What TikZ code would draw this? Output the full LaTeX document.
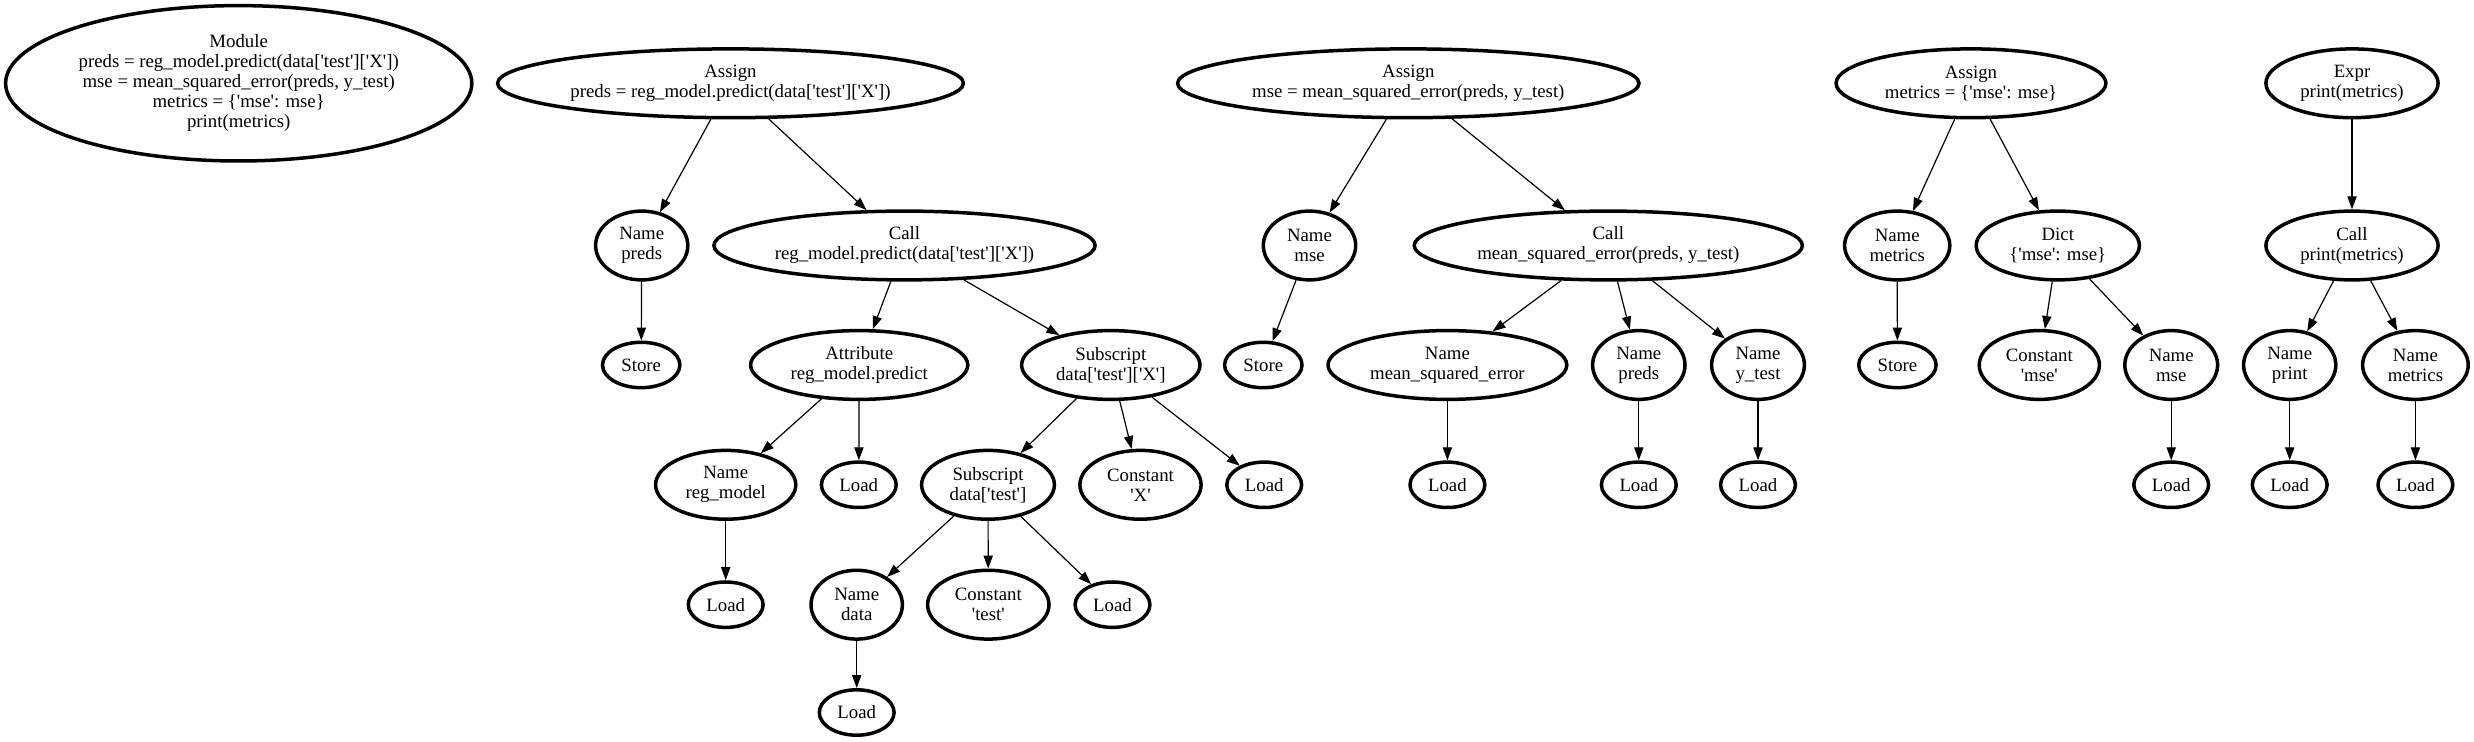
\documentclass[tikz,border=0pt]{standalone}
\usepackage{fontspec}
\newfontfamily\gv{Liberation Serif}
\usetikzlibrary{shapes.geometric,arrows.meta}
\tikzset{
  ast/.style={draw, ellipse, line width=1.75pt, inner sep=0pt, align=center,
    font=\gv\fontsize{9.4pt}{10pt}\selectfont},
  sz/.style 2 args={minimum width=#1pt, minimum height=#2pt},
  two/.style={sz={#1}{34.4}},
  one/.style={sz={37.4}{22.7}},
  conn/.style={-{Triangle[length=6.5pt,width=4.6pt]}, line width=0.6pt}
}
\begin{document}
\begin{tikzpicture}[x=0.5pt,y=-0.5pt]
\fill[white] (0,0) rectangle (2474,742);
\useasboundingbox (0,0) rectangle (2474,742);
% row 0
\node[ast, sz={233.1}{77.7}] (module) at (238.7,83.3) {Module\\preds = reg\_model.predict(data['test']['X'])\\mse = mean\_squared\_error(preds, y\_test)\\metrics = \{'mse': mse\}\\print(metrics)};
\node[ast, two=232.9] (asg1) at (730.5,83.3) {Assign\\preds = reg\_model.predict(data['test']['X'])};
\node[ast, two=230.7] (asg2) at (1408.3,83.3) {Assign\\mse = mean\_squared\_error(preds, y\_test)};
\node[ast, two=134.9] (asg3) at (1971,83.3) {Assign\\metrics = \{'mse': mse\}};
\node[ast, two=86.1] (expr) at (2352,83.3) {Expr\\print(metrics)};
% row 1
\node[ast, two=46.1] (npreds) at (641.7,245.5) {Name\\preds};
\node[ast, two=190.6] (call1) at (904.5,245.5) {Call\\reg\_model.predict(data['test']['X'])};
\node[ast, two=46.2] (nmse) at (1309.5,245.5) {Name\\mse};
\node[ast, two=194.1] (call2) at (1608.3,245.5) {Call\\mean\_squared\_error(preds, y\_test)};
\node[ast, two=52.6] (nmetrics) at (1897.2,245.5) {Name\\metrics};
\node[ast, two=81.6] (dict) at (2057.8,245.5) {Dict\\\{'mse': mse\}};
\node[ast, two=86.1] (call3) at (2352,245.5) {Call\\print(metrics)};
% row 2
\node[ast, sz={38.7}{22.7}] (store1) at (641.2,365) {Store};
\node[ast, two=108.6] (attr) at (859.2,365) {Attribute\\reg\_model.predict};
\node[ast, two=89.2] (sub1) at (1110.8,365) {Subscript\\data['test']['X']};
\node[ast, sz={38.7}{22.7}] (store2) at (1263.3,365) {Store};
\node[ast, two=119.4] (nmse_err) at (1447.4,365) {Name\\mean\_squared\_error};
\node[ast, two=46.2] (npreds2) at (1638.8,365) {Name\\preds};
\node[ast, two=46.4] (nytest) at (1758,365) {Name\\y\_test};
\node[ast, sz={38.7}{22.7}] (store3) at (1897.4,365) {Store};
\node[ast, two=60.1] (cmse) at (2039.3,365) {Constant\\'mse'};
\node[ast, two=46.4] (nmse2) at (2171.2,365) {Name\\mse};
\node[ast, two=46.1] (nprint) at (2289.7,365) {Name\\print};
\node[ast, two=52.8] (nmetrics2) at (2415.4,365) {Name\\metrics};
% row 3
\node[ast, two=70.1] (nregmodel) at (725.7,484.8) {Name\\reg\_model};
\node[ast, one] (loadattr) at (858.8,484.8) {Load};
\node[ast, two=66.4] (sub2) at (988,484.8) {Subscript\\data['test']};
\node[ast, two=60.6] (cX) at (1140.5,484.8) {Constant\\'X'};
\node[ast, one] (loadsub1) at (1264.2,484.8) {Load};
\node[ast, one] (loadmseerr) at (1447.4,484.8) {Load};
\node[ast, one] (loadpreds2) at (1638.8,484.8) {Load};
\node[ast, one] (loadytest) at (1758,484.8) {Load};
\node[ast, one] (loadmse2) at (2171.2,484.8) {Load};
\node[ast, one] (loadprint) at (2289.7,484.8) {Load};
\node[ast, one] (loadmetrics) at (2415.4,484.8) {Load};
% row 4
\node[ast, one] (loadregmodel) at (725.7,604.7) {Load};
\node[ast, two=45.7] (ndata) at (856.7,604.7) {Name\\data};
\node[ast, two=60.7] (ctest) at (988.3,604.7) {Constant\\'test'};
\node[ast, one] (loadsub2) at (1112.5,604.7) {Load};
% row 5
\node[ast, one] (loaddata) at (856.7,712.5) {Load};
% edges
\draw[conn] (asg1) -- (npreds);
\draw[conn] (asg1) -- (call1);
\draw[conn] (npreds) -- (store1);
\draw[conn] (call1) -- (attr);
\draw[conn] (call1) -- (sub1);
\draw[conn] (attr) -- (nregmodel);
\draw[conn] (attr) -- (loadattr);
\draw[conn] (nregmodel) -- (loadregmodel);
\draw[conn] (sub1) -- (sub2);
\draw[conn] (sub1) -- (cX);
\draw[conn] (sub1) -- (loadsub1);
\draw[conn] (sub2) -- (ndata);
\draw[conn] (sub2) -- (ctest);
\draw[conn] (sub2) -- (loadsub2);
\draw[conn] (ndata) -- (loaddata);
\draw[conn] (asg2) -- (nmse);
\draw[conn] (asg2) -- (call2);
\draw[conn] (nmse) -- (store2);
\draw[conn] (call2) -- (nmse_err);
\draw[conn] (call2) -- (npreds2);
\draw[conn] (call2) -- (nytest);
\draw[conn] (nmse_err) -- (loadmseerr);
\draw[conn] (npreds2) -- (loadpreds2);
\draw[conn] (nytest) -- (loadytest);
\draw[conn] (asg3) -- (nmetrics);
\draw[conn] (asg3) -- (dict);
\draw[conn] (nmetrics) -- (store3);
\draw[conn] (dict) -- (cmse);
\draw[conn] (dict) -- (nmse2);
\draw[conn] (nmse2) -- (loadmse2);
\draw[conn] (expr) -- (call3);
\draw[conn] (call3) -- (nprint);
\draw[conn] (call3) -- (nmetrics2);
\draw[conn] (nprint) -- (loadprint);
\draw[conn] (nmetrics2) -- (loadmetrics);
\end{tikzpicture}
\end{document}
